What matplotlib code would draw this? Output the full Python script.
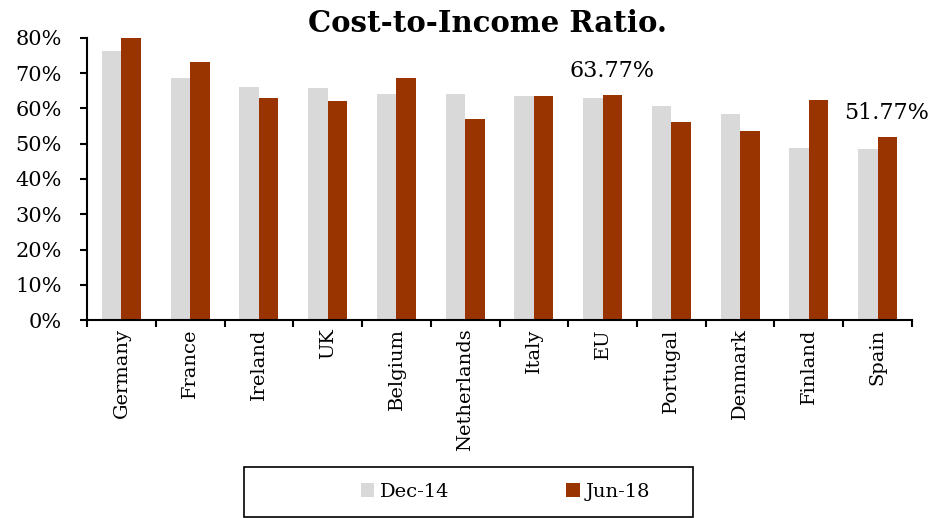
import numpy as np
import matplotlib.pyplot as plt
from matplotlib.patches import Rectangle
from matplotlib.ticker import PercentFormatter, FixedLocator

countries = ['Germany', 'France', 'Ireland', 'UK', 'Belgium', 'Netherlands',
             'Italy', 'EU', 'Portugal', 'Denmark', 'Finland', 'Spain']
dec14 = [76.2, 68.7, 66.0, 65.8, 64.1, 64.0, 63.4, 63.0, 60.6, 58.5, 48.9, 48.4]
jun18 = [80.0, 73.1, 63.0, 62.0, 68.7, 57.0, 63.5, 63.77, 56.1, 53.5, 62.3, 51.77]
labels = {'EU': '63.77%', 'Spain': '51.77%'}

plt.rcParams['font.family'] = ['DejaVu Serif']

fig = plt.figure(figsize=(9.47, 5.18), dpi=100)
ax = fig.add_axes([0.092, 0.382, 0.871, 0.545])

x = np.arange(len(countries))
w = 0.284
ax.bar(x - w / 2, dec14, w, color='#d9d9d9', label='Dec-14')
ax.bar(x + w / 2, jun18, w, color='#993300', label='Jun-18')

for name, txt in labels.items():
    i = countries.index(name)
    ax.text(i + 0.13, jun18[i] + 6.8, txt, ha='center', va='center', fontsize=16)

ax.set_xlim(-0.5, len(countries) - 0.5)
ax.set_ylim(0, 80)
ax.yaxis.set_major_formatter(PercentFormatter(decimals=0))
ax.set_yticks(np.arange(0, 81, 10))
ax.set_xticks(x)
ax.set_xticklabels(countries, rotation=90, fontsize=14)
ax.tick_params(axis='x', length=0, pad=6)
ax.xaxis.set_minor_locator(FixedLocator(np.arange(-0.5, len(countries), 1)))
ax.tick_params(axis='x', which='minor', length=5, width=1.5, direction='out')
ax.tick_params(axis='y', labelsize=15, length=5, width=1.5, pad=13)
for s in ['top', 'right']:
    ax.spines[s].set_visible(False)
for s in ['left', 'bottom']:
    ax.spines[s].set_linewidth(1.5)

ax.set_title('Cost-to-Income Ratio.', fontsize=21, fontweight='bold', pad=2,
             x=0.485)

# legend box (Excel style, entries sit right of centre)
fig.patches.append(Rectangle((244 / 947, 0.002), 449 / 947, 50 / 518,
                             transform=fig.transFigure, fill=False,
                             edgecolor='black', linewidth=1.2))
fig.legend(loc='center left', bbox_to_anchor=(351 / 947, 1 - 492 / 518), ncol=2,
           fontsize=14, frameon=False, borderpad=0,
           handlelength=0.7, handleheight=0.7, handletextpad=0.3,
           columnspacing=6)

fig.savefig('out.png', dpi=100)
